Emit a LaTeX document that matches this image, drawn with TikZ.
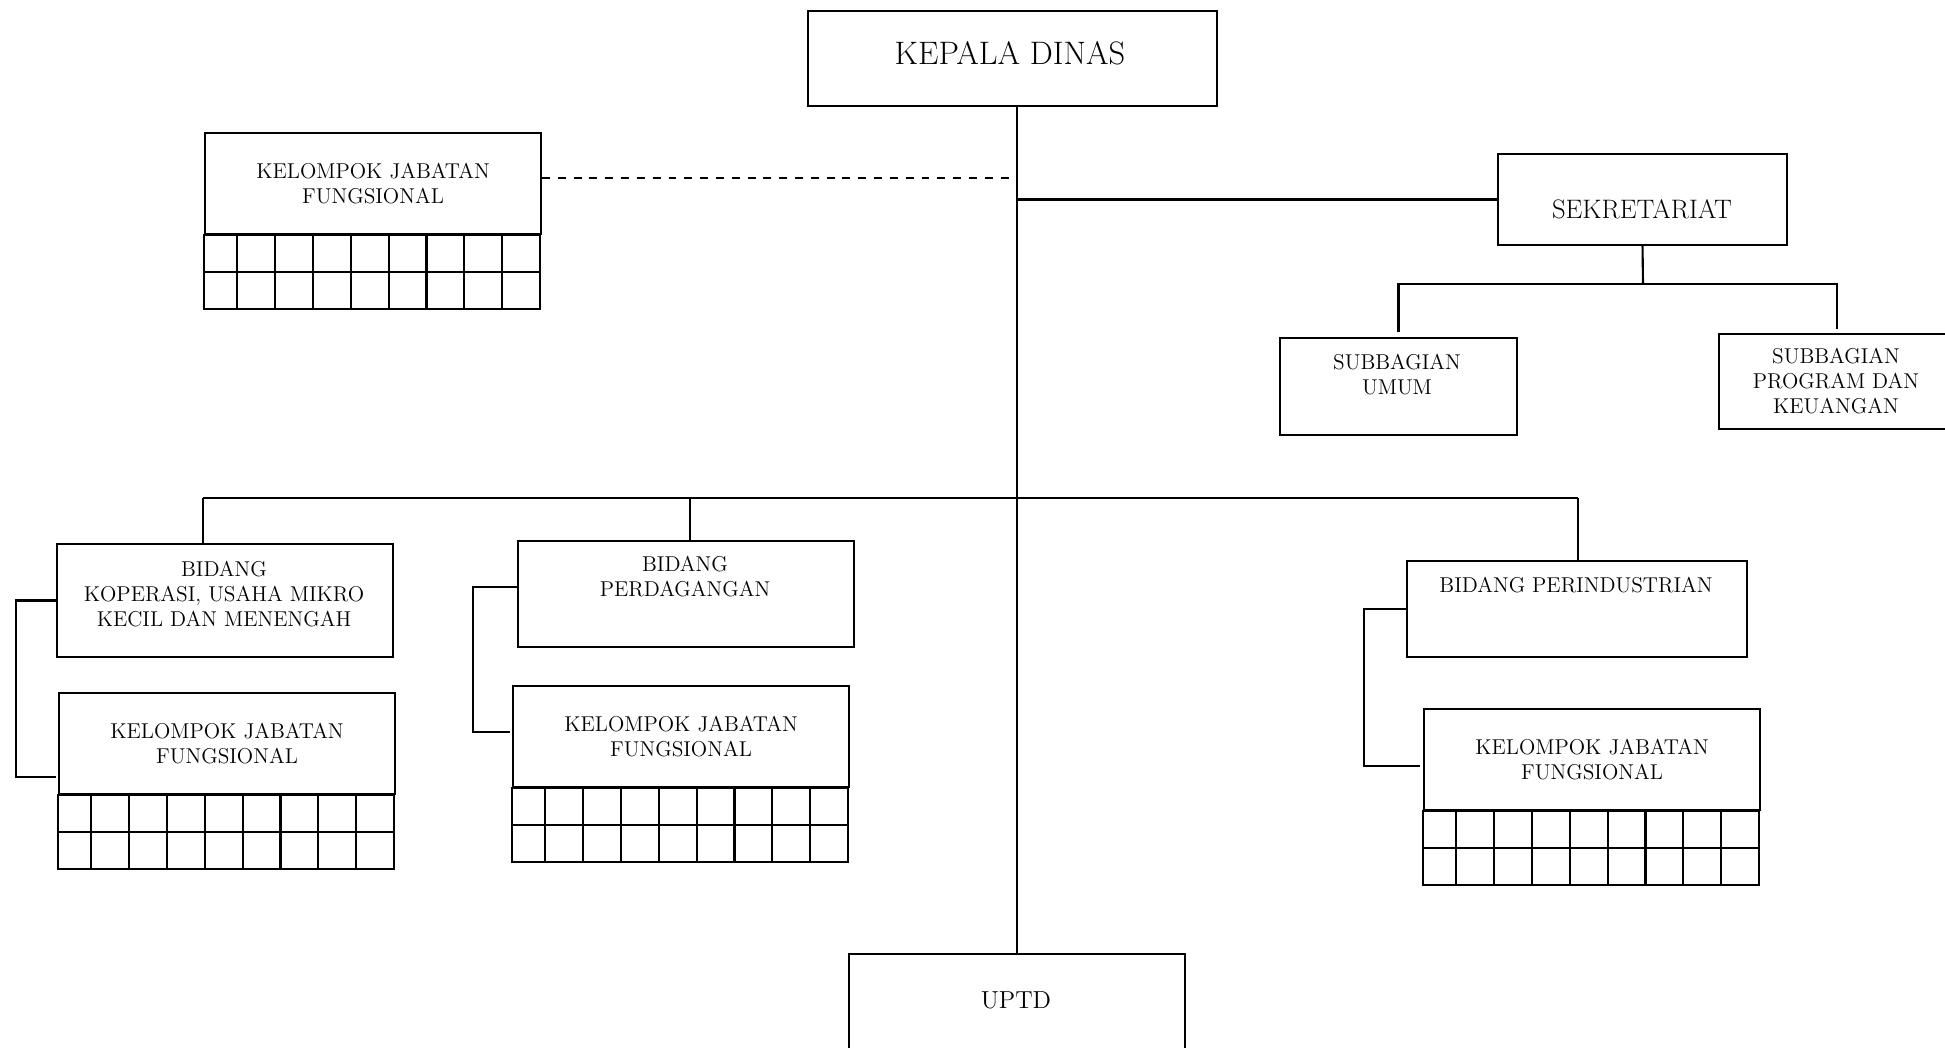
\documentclass[tikz,border=0pt]{standalone}
\usepackage{fontspec}

\newcommand{\jabfung}[3]{%
  \node[box, minimum width=6.72cm, minimum height=2.02cm] (#1) at (#2,#3) {};
  \node[lbl] (#1-t) at (#1) {KELOMPOK JABATAN\\FUNGSIONAL};
  \draw[link] (#1.south west) rectangle ++(336,74);
  \draw[link] ([yshift=-0.74cm]#1.south west) -- ++(336,0);
  \foreach \k in {0,...,7}
    \draw[link] ([xshift=0.66cm+\k*0.758cm]#1.south west) -- ++(0,74);
}

\begin{document}
\begin{tikzpicture}[x=0.02cm, y=-0.02cm,
  box/.style={draw, line width=1.2pt, inner sep=0pt, anchor=north west},
  lbl/.style={align=center, inner sep=0pt, font=\fontsize{12.2}{14.3}\selectfont},
  link/.style={line width=1.2pt}]
  \useasboundingbox (0,0) rectangle (1945,1048);

  \node[box, minimum width=8.18cm, minimum height=1.9cm] (kadis) at (807,10) {};
  \node[lbl, font=\fontsize{18.5}{21}\selectfont] (kadis-t) at (1010,53) {KEPALA DINAS};

  \jabfung{kjfT}{204}{132}

  \node[box, minimum width=5.78cm, minimum height=1.82cm] (sekr) at (1497,153) {};
  \node[lbl, font=\fontsize{15.2}{18}\selectfont] (sekr-t) at (1642,209) {SEKRETARIAT};

  \node[box, minimum width=4.74cm, minimum height=1.94cm] (sbumum) at (1279,337) {};
  \node[lbl] (sbumum-t) at (1397,375) {SUBBAGIAN\\UMUM};
  \node[box, minimum width=4.72cm, minimum height=1.9cm] (sbprog) at (1718,333) {};
  \node[lbl] (sbprog-t) at (1836,381) {SUBBAGIAN\\PROGRAM DAN\\KEUANGAN};

  \node[box, minimum width=6.72cm, minimum height=2.26cm] (kumkm) at (56,543) {};
  \node[lbl] (kumkm-t) at (224,594) {BIDANG\\KOPERASI, USAHA MIKRO\\KECIL DAN MENENGAH};
  \jabfung{kjfA}{58}{692}

  \node[box, minimum width=6.72cm, minimum height=2.12cm] (perdag) at (517,540) {};
  \node[lbl] (perdag-t) at (685,577) {BIDANG\\PERDAGANGAN};
  \jabfung{kjfB}{512}{685}

  \node[box, minimum width=6.8cm, minimum height=1.92cm] (perind) at (1406,560) {};
  \node[lbl] (perind-t) at (1576,585) {BIDANG PERINDUSTRIAN};
  \jabfung{kjfC}{1423}{708}

  \node[box, minimum width=6.72cm, minimum height=2.4cm] (uptd) at (848,953) {};
  \node[lbl, font=\fontsize{14}{16}\selectfont] (uptd-t) at (1016,1000) {UPTD};

  \coordinate (dashend) at (1010,178);
  \coordinate (sekbar) at (1643,284);
  \coordinate (busL) at (203,498);
  \coordinate (busM) at (690,498);
  \coordinate (busR) at (1578,498);
  \coordinate (kjfA-in) at (56,777);
  \coordinate (pdg-a) at (517,587);
  \coordinate (pdg-b) at (510,732);
  \coordinate (pri-b) at (1420,766);

  \draw[link] (uptd.north |- kadis.south) -- (uptd.north);
  \draw[link] (sekr.west -| uptd.north) -- (sekr.west);
  \draw[line width=1pt, dash pattern=on 4.5pt off 4.5pt] (dashend -| kjfT.east) -- (dashend);

  \draw[link] (sekr.south) -- (sekbar);
  \draw[link] ([yshift=0.1cm]sbumum.north) |- (sekbar -| sbprog.north) -- ([yshift=0.08cm]sbprog.north);

  \draw[link] (busL) -- (busR);
  \draw[link] (busL) -- (busL |- kumkm.north);
  \draw[link] (busM) -- (busM |- perdag.north);
  \draw[link] (busR) -- (busR |- perind.north);

  \draw[link] (kumkm.west) -- ++(-40,0) |- (kjfA-in);
  \draw[link] (pdg-a) -- ++(-44,0) |- (pdg-b);
  \draw[link] (perind.west) -- ++(-42,0) |- (pri-b);
\end{tikzpicture}
\end{document}
